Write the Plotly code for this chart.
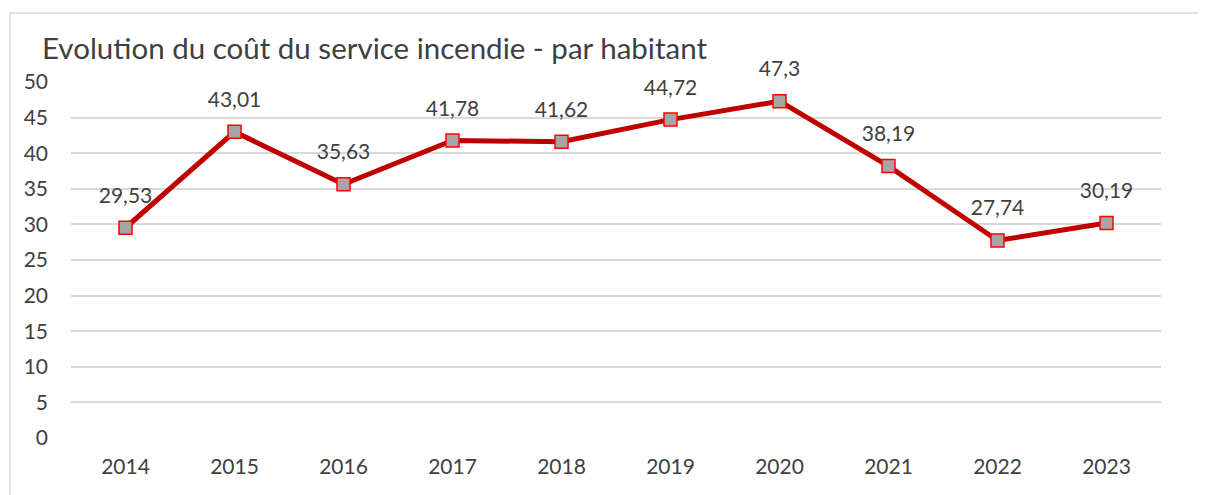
import plotly.graph_objects as go

# Données
annees = ['2014', '2015', '2016', '2017', '2018', '2019', '2020', '2021', '2022', '2023']
cout_par_habitant = [29.53, 43.01, 35.63, 41.78, 41.62, 44.72, 47.3, 38.19, 27.74, 30.19]
etiquettes = [f"{v:g}".replace('.', ',') for v in cout_par_habitant]

titre = "Evolution du coût du service incendie - par habitant"
police = "Lato, 'Open Sans', sans-serif"
gris_texte = '#404040'

# la page html ajoute une marge de 8px autour du graphique
decalage = 8

fig = go.Figure()

# Courbe principale
fig.add_trace(go.Scatter(
    x=annees,
    y=cout_par_habitant,
    mode='lines+markers',
    line=dict(color='#C00000', width=5),
    marker=dict(symbol='square', size=13, color='#A5A5A5',
                line=dict(color='#FF0000', width=1.5)),
    hoverinfo='x+y',
    showlegend=False,
))

# Etiquettes de données (marqueur invisible pour décaler le texte)
fig.add_trace(go.Scatter(
    x=annees,
    y=cout_par_habitant,
    mode='markers+text',
    text=etiquettes,
    textposition='top center',
    textfont=dict(family=police, size=21, color=gris_texte),
    marker=dict(size=30, opacity=0),
    hoverinfo='skip',
    showlegend=False,
    cliponaxis=False,
))

# Cadre du graphique
fig.add_shape(type='rect', xref='paper', yref='paper',
              x0=-0.0559, x1=1.2, y0=-0.4, y1=1.1938,
              line=dict(color='#D9D9D9', width=1.5), layer='below')

fig.update_layout(
    width=1206,
    height=495,
    margin=dict(l=70.5 - decalage, r=44.5 + decalage, t=82 - decalage, b=57 + decalage),
    paper_bgcolor='white',
    plot_bgcolor='white',
    font=dict(family=police, size=21, color=gris_texte),
    title=dict(text=titre, x=(42 - decalage) / 1206, xanchor='left', xref='container',
               y=1 - (49 - decalage) / 495, yanchor='middle', yref='container',
               font=dict(family=police, size=29.5, color=gris_texte)),
    xaxis=dict(type='category', range=[-0.5, 9.5], showgrid=False,
               showline=False, zeroline=False, ticks='',
               ticklabelstandoff=14, fixedrange=True),
    yaxis=dict(range=[0, 50], dtick=5, showgrid=True, gridcolor='#D9D9D9',
               gridwidth=1.5, zeroline=False, showline=False, ticks='',
               ticklabelstandoff=22, fixedrange=True),
)

fig.write_html("out.html")
